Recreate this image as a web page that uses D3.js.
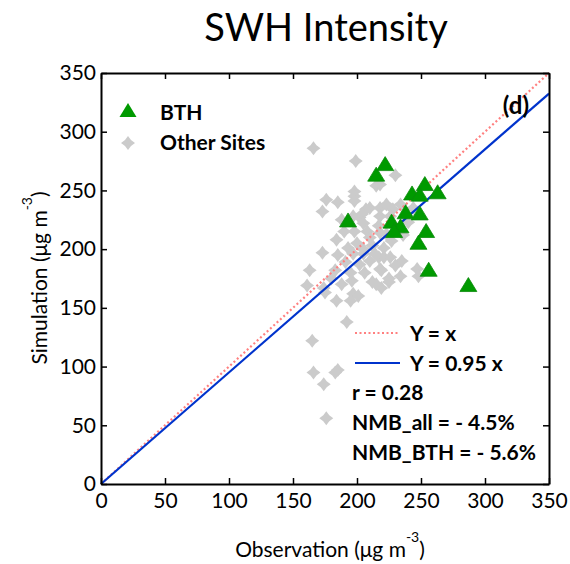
<!DOCTYPE html>
<html>
<head>
<meta charset="utf-8">
<script src="https://cdn.jsdelivr.net/npm/d3@7"></script>
<style>
  body { margin: 0; background: #fff; }
  text { font-family: Lato, 'Open Sans', sans-serif; }
</style>
</head>
<body>
<script>
// BTH sites (observation, simulation)
const bthObs = [193, 215, 222, 253, 243, 249, 263, 238, 249, 227, 234, 229, 254, 248, 256, 287];
const bthSim = [224, 263, 272, 255, 247, 246, 248, 231, 230, 223, 219, 215, 215, 205, 182, 169];

// other sites
const otherObs = [166, 199, 215, 198, 198, 198, 176, 185, 207, 173, 218, 218, 188, 197, 202, 204, 198, 208, 217, 218,
  184, 193, 173, 197, 212, 214, 217, 191, 202, 206, 163, 183, 196, 212, 161, 174, 218, 219, 188, 197, 195, 201, 184,
  215, 225, 175, 192, 165, 166, 174, 183, 185, 176, 230, 218, 223, 228, 234, 244, 226, 223, 227, 221, 221, 226, 235,
  219, 234, 225, 247, 248, 190, 205, 210, 200, 195, 205, 210, 180, 240, 236, 230, 185, 210, 205];
const otherSim = [286, 275, 254, 249, 245, 241, 242, 240, 234, 232, 235, 228, 225, 228, 227, 230, 215, 215, 220, 214,
  208, 201, 197, 196, 203, 196, 193, 189, 187, 180, 182, 182, 173, 172, 169, 167, 183, 167, 170, 162, 156, 160, 156,
  170, 172, 163, 138, 122, 95, 85, 95, 97, 56, 263, 255, 238, 234, 238, 235, 228, 213, 207, 201, 193, 193, 190,
  182, 177, 175, 183, 177, 215, 222, 210, 205, 180, 200, 190, 175, 223, 212, 186, 195, 235, 196];

const xTicks = [0, 50, 100, 150, 200, 250, 300, 350];
const yTicks = [0, 50, 100, 150, 200, 250, 300, 350];
const slope = 0.95;
const stats = ['r = 0.28', 'NMB_all = - 4.5%', 'NMB_BTH = - 5.6%'];

const width = 570, height = 564;
const margin = { left: 101, right: 21, top: 73, bottom: 80 };

const svg = d3.select('body').append('svg')
  .attr('width', width)
  .attr('height', height);

const x = d3.scaleLinear().domain([0, 350]).range([margin.left, width - margin.right]);
const y = d3.scaleLinear().domain([0, 350]).range([height - margin.bottom, margin.top]);

// title
svg.append('text')
  .attr('x', 326).attr('y', 41)
  .attr('text-anchor', 'middle')
  .attr('font-size', 38)
  .text('SWH Intensity');

// marker shapes
const star = 'M0,-7 L3,-3 L7,0 L3,3 L0,7 L-3,3 L-7,0 L-3,-3 Z';
const tri = 'M0,-8 L8.5,6 L-8.5,6 Z';

// other sites
svg.append('g')
  .selectAll('path')
  .data(otherObs)
  .enter()
  .append('path')
  .attr('d', star)
  .attr('fill', '#cbcbcb')
  .attr('transform', (d, i) => `translate(${x(d)},${y(otherSim[i])})`);

// reference lines
svg.append('line')
  .attr('x1', x(0)).attr('y1', y(0))
  .attr('x2', x(350)).attr('y2', y(350))
  .attr('stroke', '#ff8080')
  .attr('stroke-width', 2.2)
  .attr('stroke-dasharray', '2,2.5');

svg.append('line')
  .attr('x1', x(0)).attr('y1', y(0))
  .attr('x2', x(350)).attr('y2', y(350 * slope))
  .attr('stroke', '#0033cc')
  .attr('stroke-width', 2.2);

// BTH
svg.append('g')
  .selectAll('path')
  .data(bthObs)
  .enter()
  .append('path')
  .attr('d', tri)
  .attr('fill', '#009a00')
  .attr('stroke', '#0a8a0a')
  .attr('stroke-width', 0.8)
  .attr('transform', (d, i) => `translate(${x(d)},${y(bthSim[i])})`);

// axes, ticks pointing inward on all four sides
const fmt = d3.format('d');
const axBottom = svg.append('g')
  .attr('transform', `translate(0,${y(0)})`)
  .call(d3.axisBottom(x).tickValues(xTicks).tickSizeInner(-6).tickSizeOuter(0).tickPadding(12).tickFormat(fmt));
const axLeft = svg.append('g')
  .attr('transform', `translate(${x(0)},0)`)
  .call(d3.axisLeft(y).tickValues(yTicks).tickSizeInner(-6).tickSizeOuter(0).tickPadding(12).tickFormat(fmt));
const axTop = svg.append('g')
  .attr('transform', `translate(0,${y(350)})`)
  .call(d3.axisTop(x).tickValues(xTicks).tickSizeInner(-6).tickSizeOuter(0).tickFormat(''));
const axRight = svg.append('g')
  .attr('transform', `translate(${x(350)},0)`)
  .call(d3.axisRight(y).tickValues(yTicks).tickSizeInner(-6).tickSizeOuter(0).tickFormat(''));

[axBottom, axLeft, axTop, axRight].forEach((g) => {
  g.select('.domain').attr('stroke', '#000').attr('stroke-width', 2);
  g.selectAll('.tick line').attr('stroke', '#000').attr('stroke-width', 1.5);
  g.selectAll('.tick text')
    .attr('font-family', 'Lato, sans-serif')
    .attr('font-size', 21)
    .attr('fill', '#000');
});
axLeft.selectAll('.tick text').attr('dx', 7);
axBottom.selectAll('.tick text').attr('dy', '0.55em');

// axis labels
const xl = svg.append('text')
  .attr('x', 330).attr('y', 557)
  .attr('text-anchor', 'middle')
  .attr('font-size', 21);
xl.append('tspan').text('Observation (μg m');
xl.append('tspan').attr('dy', -15).attr('font-size', 14).text('-3');
xl.append('tspan').attr('dy', 15).text(')');

const yl = svg.append('text')
  .attr('transform', 'translate(47,278) rotate(-90)')
  .attr('text-anchor', 'middle')
  .attr('font-size', 21);
yl.append('tspan').text('Simulation (μg m');
yl.append('tspan').attr('dy', -15).attr('font-size', 14).text('-3');
yl.append('tspan').attr('dy', 15).text(')');

// panel tag
svg.append('text')
  .attr('x', 529).attr('y', 114)
  .attr('text-anchor', 'end')
  .attr('font-size', 24)
  .attr('font-weight', 'bold')
  .text('(d)');

// marker legend
const legend = svg.append('g');
legend.append('path').attr('d', tri).attr('fill', '#009a00')
  .attr('transform', 'translate(128,111)');
legend.append('text').attr('x', 160).attr('y', 120)
  .attr('font-size', 21).attr('font-weight', 'bold').text('BTH');
legend.append('path').attr('d', star).attr('fill', '#cbcbcb')
  .attr('transform', 'translate(128,143)');
legend.append('text').attr('x', 160).attr('y', 150)
  .attr('font-size', 21).attr('font-weight', 'bold').text('Other Sites');

// line legend + stats
const ll = svg.append('g');
ll.append('line').attr('x1', 355).attr('x2', 400).attr('y1', 333).attr('y2', 333)
  .attr('stroke', '#ff8080').attr('stroke-width', 2.2).attr('stroke-dasharray', '2,2.5');
ll.append('text').attr('x', 410).attr('y', 341)
  .attr('font-size', 21).attr('font-weight', 'bold').text('Y = x');
ll.append('line').attr('x1', 355).attr('x2', 400).attr('y1', 363).attr('y2', 363)
  .attr('stroke', '#0033cc').attr('stroke-width', 2.2);
ll.append('text').attr('x', 410).attr('y', 371)
  .attr('font-size', 21).attr('font-weight', 'bold').text('Y = 0.95 x');

ll.selectAll('text.stat')
  .data(stats)
  .enter()
  .append('text')
  .attr('class', 'stat')
  .attr('x', 352)
  .attr('y', (d, i) => 400 + i * 30)
  .attr('font-size', 21)
  .attr('font-weight', 'bold')
  .text((d) => d);
</script>
</body>
</html>
